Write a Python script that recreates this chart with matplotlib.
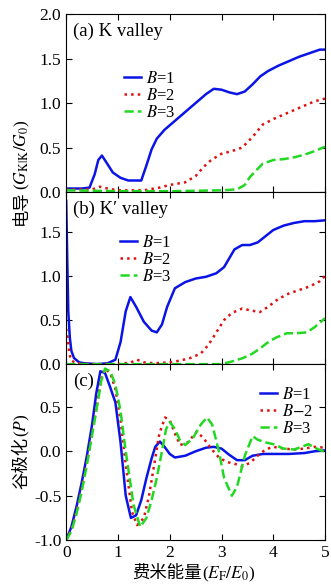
import numpy as np
import matplotlib
matplotlib.use("Agg")
import matplotlib.pyplot as plt
from matplotlib.ticker import FormatStrFormatter

plt.rcParams['font.family'] = ['Liberation Serif', 'Noto Sans CJK SC']
plt.rcParams['mathtext.fontset'] = 'stix'

# panel (a): K valley
xa1 = [0, 0.3, 0.45, 0.55, 0.62, 0.69, 0.78, 0.9, 1.05, 1.2, 1.45, 1.55, 1.65, 1.75, 1.9, 2.1, 2.3, 2.5, 2.7, 2.85, 3.0, 3.15, 3.3, 3.45, 3.6, 3.75, 3.9, 4.1, 4.3, 4.5, 4.7, 4.9, 5.0]
ya1 = [0.04, 0.04, 0.05, 0.2, 0.36, 0.41, 0.33, 0.22, 0.16, 0.13, 0.13, 0.3, 0.48, 0.6, 0.7, 0.8, 0.9, 1.0, 1.1, 1.16, 1.15, 1.12, 1.1, 1.13, 1.21, 1.3, 1.36, 1.42, 1.47, 1.52, 1.56, 1.6, 1.6]
xa2 = [0, 0.5, 0.65, 0.8, 1.0, 1.5, 1.8, 2.0, 2.3, 2.5, 2.65, 2.8, 3.0, 3.2, 3.4, 3.6, 3.8, 4.0, 4.2, 4.4, 4.6, 4.8, 5.0]
ya2 = [0.03, 0.03, 0.06, 0.04, 0.02, 0.02, 0.05, 0.08, 0.11, 0.18, 0.28, 0.36, 0.43, 0.46, 0.5, 0.62, 0.76, 0.82, 0.87, 0.92, 0.97, 1.02, 1.05]
xa3 = [0, 1.0, 2.0, 3.0, 3.3, 3.45, 3.55, 3.68, 3.8, 4.0, 4.2, 4.4, 4.6, 4.8, 5.0]
ya3 = [0.02, 0.01, 0.01, 0.02, 0.03, 0.08, 0.17, 0.25, 0.32, 0.36, 0.37, 0.39, 0.42, 0.46, 0.51]

# panel (b): K' valley
xb1 = [0, 0.02, 0.04, 0.07, 0.1, 0.15, 0.25, 0.35, 0.6, 0.8, 0.95, 1.05, 1.15, 1.24, 1.35, 1.5, 1.65, 1.75, 1.85, 1.95, 2.1, 2.3, 2.5, 2.7, 2.9, 3.05, 3.15, 3.25, 3.4, 3.55, 3.7, 3.85, 4.0, 4.2, 4.4, 4.6, 4.8, 5.0]
yb1 = [1.85, 1.2, 0.6, 0.3, 0.15, 0.07, 0.02, 0.01, 0.0, 0.01, 0.05, 0.25, 0.6, 0.76, 0.65, 0.48, 0.38, 0.36, 0.45, 0.65, 0.86, 0.93, 0.97, 0.99, 1.03, 1.1, 1.2, 1.3, 1.35, 1.35, 1.38, 1.45, 1.52, 1.57, 1.6, 1.62, 1.62, 1.63]
xb2 = [0, 0.03, 0.06, 0.1, 0.2, 0.5, 1.0, 1.25, 1.37, 1.5, 1.7, 2.0, 2.2, 2.4, 2.6, 2.75, 2.9, 3.05, 3.2, 3.4, 3.55, 3.74, 3.9, 4.1, 4.3, 4.5, 4.7, 4.9, 5.0]
yb2 = [0.4, 0.3, 0.12, 0.04, 0.01, 0.0, 0.0, 0.02, 0.05, 0.02, 0.01, 0.02, 0.04, 0.07, 0.12, 0.22, 0.36, 0.5, 0.58, 0.63, 0.61, 0.59, 0.65, 0.74, 0.8, 0.84, 0.88, 0.94, 1.0]
xb3 = [0, 1.0, 2.0, 3.0, 3.2, 3.42, 3.6, 3.75, 3.88, 4.05, 4.26, 4.45, 4.65, 4.8, 5.0]
yb3 = [0.0, 0.0, 0.0, 0.0, 0.03, 0.07, 0.12, 0.18, 0.24, 0.3, 0.35, 0.35, 0.36, 0.42, 0.52]

# panel (c): valley polarization
xc1 = [0, 0.1, 0.2, 0.3, 0.4, 0.5, 0.58, 0.66, 0.75, 0.85, 0.95, 1.05, 1.15, 1.25, 1.35, 1.45, 1.55, 1.65, 1.72, 1.81, 1.9, 2.0, 2.1, 2.3, 2.5, 2.7, 2.85, 3.0, 3.15, 3.3, 3.45, 3.6, 3.8, 4.0, 4.3, 4.6, 4.8, 5.0]
yc1 = [-1.0, -0.85, -0.62, -0.35, -0.05, 0.3, 0.65, 0.9, 0.88, 0.72, 0.55, 0.1, -0.5, -0.75, -0.72, -0.55, -0.3, -0.08, 0.05, 0.11, 0.05, -0.03, -0.07, -0.05, 0.0, 0.04, 0.05, 0.03, -0.04, -0.1, -0.1, -0.05, -0.03, -0.03, -0.03, -0.02, 0.0, 0.01]
xc2 = [0, 0.1, 0.2, 0.3, 0.4, 0.5, 0.6, 0.68, 0.75, 0.85, 0.95, 1.05, 1.15, 1.27, 1.37, 1.5, 1.6, 1.7, 1.8, 1.91, 2.0, 2.1, 2.2, 2.35, 2.52, 2.65, 2.8, 2.95, 3.1, 3.25, 3.4, 3.55, 3.7, 3.85, 4.0, 4.2, 4.4, 4.6, 4.8, 5.0]
yc2 = [-1.0, -0.88, -0.68, -0.42, -0.12, 0.2, 0.55, 0.82, 0.93, 0.88, 0.7, 0.35, -0.15, -0.68, -0.83, -0.75, -0.5, -0.15, 0.2, 0.38, 0.35, 0.2, 0.07, 0.1, 0.22, 0.15, 0.03, -0.07, -0.12, -0.14, -0.17, -0.13, -0.05, 0.02, 0.05, 0.03, 0.02, 0.03, 0.05, 0.04]
xc3 = [0, 0.1, 0.2, 0.3, 0.4, 0.5, 0.6, 0.68, 0.75, 0.85, 0.95, 1.05, 1.15, 1.3, 1.43, 1.55, 1.65, 1.75, 1.85, 1.93, 2.0, 2.1, 2.2, 2.3, 2.45, 2.6, 2.72, 2.82, 2.95, 3.05, 3.2, 3.3, 3.45, 3.6, 3.7, 3.85, 4.0, 4.2, 4.4, 4.55, 4.68, 4.8, 5.0]
yc3 = [-1.0, -0.9, -0.7, -0.45, -0.15, 0.18, 0.52, 0.8, 0.93, 0.9, 0.75, 0.45, 0.0, -0.6, -0.85, -0.75, -0.55, -0.3, 0.0, 0.25, 0.33, 0.25, 0.12, 0.07, 0.15, 0.3, 0.38, 0.3, 0.0, -0.3, -0.5, -0.4, -0.05, 0.17, 0.13, 0.1, 0.08, 0.03, 0.02, 0.05, 0.08, 0.04, -0.01]

labels = [r'$B$=1', r'$B$=2', r'$B$=3']
label_c = [r'$B$=1', r'$B$$-$2', r'$B$=3']
colors = ['#0a14e6', '#e01010', '#22d822']
styles = ['-', ':', '--']

fig, axes = plt.subplots(3, 1, figsize=(3.31, 5.84), dpi=100, sharex=True,
                         gridspec_kw=dict(height_ratios=[178, 172, 176], hspace=0))
fig.subplots_adjust(left=0.2, right=0.982, top=0.976, bottom=0.075)

data = [
    [(xa1, ya1), (xa2, ya2), (xa3, ya3)],
    [(xb1, yb1), (xb2, yb2), (xb3, yb3)],
    [(xc1, yc1), (xc2, yc2), (xc3, yc3)],
]
for ax, series in zip(axes, data):
    for (x, y), c, ls in zip(series, colors, styles):
        ax.plot(x, y, color=c, ls=ls, lw=1.8)
    ax.set_xlim(0, 5)
    ax.tick_params(direction='in', top=True, right=True, labelsize=12.5, length=4)
    ax.yaxis.set_major_formatter(FormatStrFormatter('%.1f'))

axes[0].set_ylim(0, 2.0)
axes[0].set_yticks([0, 0.5, 1.0, 1.5, 2.0])
axes[1].set_ylim(0, 1.95)
axes[1].set_yticks([0, 0.5, 1.0, 1.5])
axes[2].set_ylim(-1.0, 0.98)
axes[2].set_yticks([-1.0, -0.5, 0, 0.5])
axes[2].set_xticks([0, 1, 2, 3, 4, 5])

axes[0].text(0.025, 0.95, '(a) K valley', transform=axes[0].transAxes, fontsize=13.5, va='top')
axes[1].text(0.025, 0.95, '(b) K\u2032 valley', transform=axes[1].transAxes, fontsize=13.5, va='top')
axes[2].text(0.025, 0.95, '(c)', transform=axes[2].transAxes, fontsize=13.5, va='top')

leg_kw = dict(frameon=False, fontsize=12, handlelength=1.05, handletextpad=0.3,
              labelspacing=0.05, borderpad=0, borderaxespad=0)
axes[0].legend(axes[0].lines, labels, loc='upper left', bbox_to_anchor=(0.222, 0.68), **leg_kw)
axes[1].legend(axes[1].lines, labels, loc='upper left', bbox_to_anchor=(0.207, 0.75), **leg_kw)
axes[2].legend(axes[2].lines, label_c, loc='upper right', bbox_to_anchor=(0.955, 0.87), **leg_kw)

# labels mixing CJK and math: two pieces side by side on one baseline
renderer = fig.canvas.get_renderer()
W, H = fig.bbox.width, fig.bbox.height


def two_part(cjk, math, cx, cy, vertical):
    kw = dict(fontsize=12.5, rotation=90 if vertical else 0, rotation_mode='anchor',
              ha='left', va='baseline')
    t1 = fig.text(0, 0, cjk, **kw)
    t2 = fig.text(0, 0, math, **kw)
    if vertical:
        l1 = t1.get_window_extent(renderer).height
        l2 = t2.get_window_extent(renderer).height
        y0 = cy - (l1 + l2) / 2
        t1.set_position((cx / W, y0 / H))
        t2.set_position((cx / W, (y0 + l1) / H))
    else:
        l1 = t1.get_window_extent(renderer).width
        l2 = t2.get_window_extent(renderer).width
        x0 = cx - (l1 + l2) / 2
        t1.set_position((x0 / W, cy / H))
        t2.set_position(((x0 + l1) / W, cy / H))


two_part('电导', r'($G_{\rm K|K}/G_0$)', 26, H - 172, True)
two_part('谷极化', r'($P$)', 26, H - 451, True)
two_part('费米能量', r'($E_{\rm F}/E_0$)', 194, H - 578, False)

fig.savefig('out.png', dpi=100)
